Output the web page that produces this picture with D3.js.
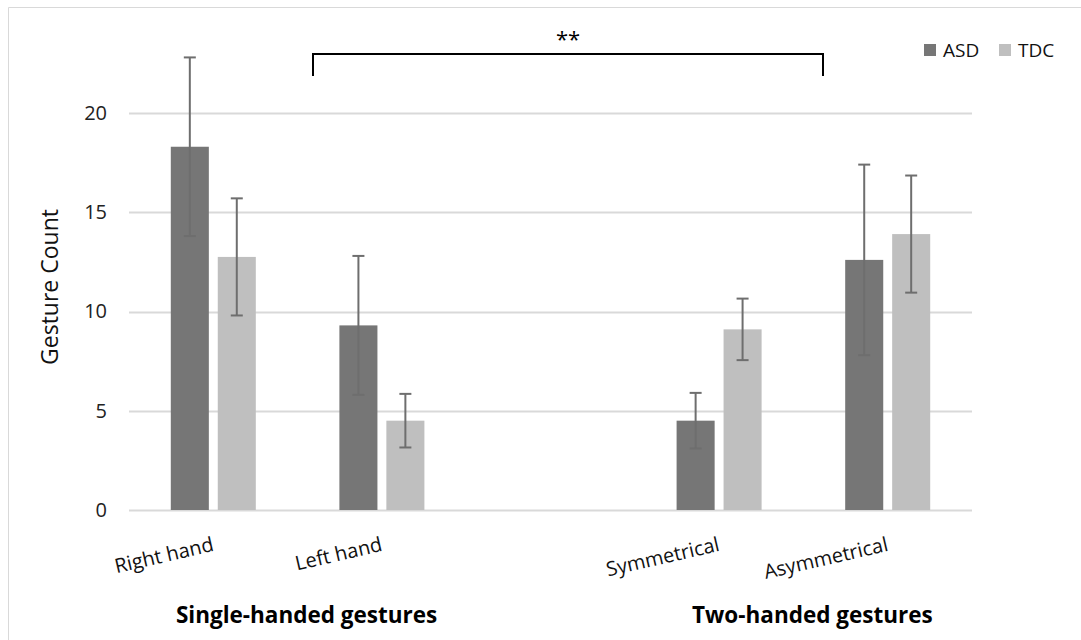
<!DOCTYPE html>
<html>
<head>
<meta charset="utf-8">
<script src="https://cdn.jsdelivr.net/npm/d3@7/dist/d3.min.js"></script>
<style>
  html, body { margin: 0; padding: 0; background: #fff; }
  svg { display: block; font-family: "Open Sans", "Liberation Sans", sans-serif; }
</style>
</head>
<body>
<svg id="chart" width="1081" height="640"></svg>
<script>
// Gesture counts by hand use, per group (mean ± error)
const categories = ["Right hand", "Left hand", "Symmetrical", "Asymmetrical"];
const slots = ["Right hand", "Left hand", "spacer", "Symmetrical", "Asymmetrical"];
const groups = ["ASD", "TDC"];
const asdMean = [18.3, 9.3, 4.5, 12.6];
const asdErr = [4.5, 3.5, 1.4, 4.8];
const tdcMean = [12.75, 4.5, 9.1, 13.9];
const tdcErr = [2.95, 1.35, 1.55, 2.95];
const yTicks = [0, 5, 10, 15, 20];
const sections = [
  { label: "Single-handed gestures", from: "Right hand", to: "Left hand" },
  { label: "Two-handed gestures", from: "Symmetrical", to: "Asymmetrical" }
];
const colors = { ASD: "#767676", TDC: "#bfbfbf" };

const svg = d3.select("#chart");

// frame (left and top edges)
svg.append("path")
  .attr("d", "M8.5,640 V7.5 H1081")
  .attr("fill", "none").attr("stroke", "#d9d9d9").attr("stroke-width", 1);

const x0 = d3.scaleBand().domain(slots).range([129, 972]).padding(0);
const x1 = d3.scaleBand().domain(groups).range([0, x0.bandwidth()])
  .paddingInner(0.19).paddingOuter(0.89);
const y = d3.scaleLinear().domain([0, 20]).range([510, 113]);

// gridlines
svg.append("g").selectAll("line").data(yTicks).join("line")
  .attr("x1", 129).attr("x2", 972)
  .attr("y1", d => Math.round(y(d)) + 0.5).attr("y2", d => Math.round(y(d)) + 0.5)
  .attr("stroke", "#d9d9d9").attr("stroke-width", 2);

// y axis tick labels
const yAxis = d3.axisLeft(y).tickValues(yTicks).tickSize(0).tickPadding(22);
const ya = svg.append("g").attr("transform", "translate(129,0)").call(yAxis);
ya.select(".domain").remove();
ya.selectAll("text").attr("font-size", 20).attr("fill", "#222")
  .attr("font-family", "Open Sans, sans-serif");

// y axis title
svg.append("text")
  .attr("transform", "translate(58,287) rotate(-90)")
  .attr("text-anchor", "middle")
  .attr("font-size", 23).attr("fill", "#111")
  .text("Gesture Count");

// rows of data
const rows = categories.map((c, i) => ({
  cat: c,
  vals: [
    { g: "ASD", v: asdMean[i], e: asdErr[i] },
    { g: "TDC", v: tdcMean[i], e: tdcErr[i] }
  ]
}));

const catG = svg.append("g").selectAll("g").data(rows).join("g")
  .attr("transform", d => `translate(${x0(d.cat)},0)`);

catG.selectAll("rect").data(d => d.vals).join("rect")
  .attr("x", d => x1(d.g)).attr("width", x1.bandwidth())
  .attr("y", d => y(d.v)).attr("height", d => y(0) - y(d.v))
  .attr("fill", d => colors[d.g]);

// error bars
const eb = catG.selectAll("g.err").data(d => d.vals).join("g").attr("class", "err")
  .attr("stroke", "#6e6e6e").attr("stroke-width", 2);
eb.append("line")
  .attr("x1", d => x1(d.g) + x1.bandwidth() / 2).attr("x2", d => x1(d.g) + x1.bandwidth() / 2)
  .attr("y1", d => y(d.v + d.e)).attr("y2", d => y(d.v - d.e));
eb.append("line")
  .attr("x1", d => x1(d.g) + x1.bandwidth() / 2 - 6).attr("x2", d => x1(d.g) + x1.bandwidth() / 2 + 6)
  .attr("y1", d => y(d.v + d.e)).attr("y2", d => y(d.v + d.e));
eb.append("line")
  .attr("x1", d => x1(d.g) + x1.bandwidth() / 2 - 6).attr("x2", d => x1(d.g) + x1.bandwidth() / 2 + 6)
  .attr("y1", d => y(d.v - d.e)).attr("y2", d => y(d.v - d.e));

// category labels (slanted)
svg.append("g").selectAll("text").data(categories).join("text")
  .attr("transform", d => `translate(${x0(d) + x0.bandwidth() / 2 - 2},536) rotate(-13)`)
  .attr("text-anchor", "end")
  .attr("dy", "0.75em")
  .attr("font-size", 20).attr("fill", "#111")
  .text(d => d);

// section labels
svg.append("g").selectAll("text").data(sections).join("text")
  .attr("x", d => (x0(d.from) + x0(d.to) + x0.bandwidth()) / 2 + 9)
  .attr("y", 623)
  .attr("text-anchor", "middle")
  .attr("font-size", 22.5).attr("font-weight", "bold").attr("fill", "#000")
  .text(d => d.label);

// significance bracket
const bx1 = 313, bx2 = 823;
svg.append("path")
  .attr("d", `M${bx1},76 V54 H${bx2} V76`)
  .attr("fill", "none").attr("stroke", "#000").attr("stroke-width", 2);
svg.append("text")
  .attr("x", (bx1 + bx2) / 2).attr("y", 47)
  .attr("text-anchor", "middle").attr("font-size", 22).attr("fill", "#000")
  .text("**");

// legend
const legend = svg.append("g").attr("transform", "translate(924,44)");
const li = legend.selectAll("g").data(groups).join("g")
  .attr("transform", (d, i) => `translate(${i * 75},0)`);
li.append("rect").attr("width", 12).attr("height", 12).attr("fill", d => colors[d]);
li.append("text").attr("x", 19).attr("y", 6).attr("dy", "0.35em")
  .attr("font-size", 19).attr("fill", "#111").text(d => d);
</script>
</body>
</html>
